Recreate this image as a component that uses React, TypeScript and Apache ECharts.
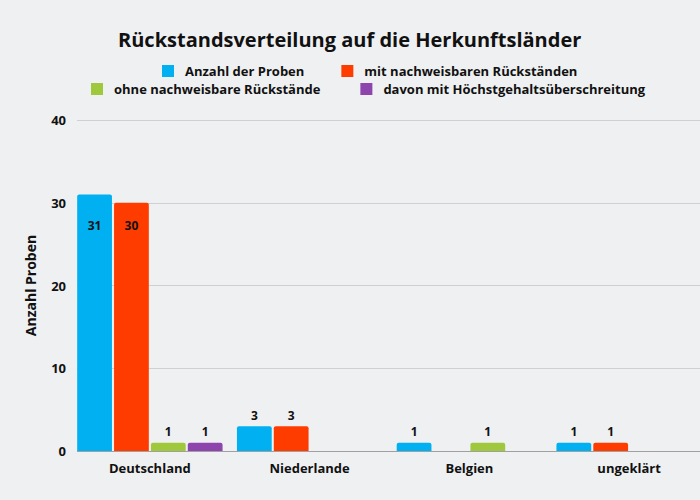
import React, { useEffect, useRef } from "react";
import * as echarts from "echarts";

const categories = ["Deutschland", "Niederlande", "Belgien", "ungeklärt"];
const seriesNames = [
  "Anzahl der Proben",
  "mit nachweisbaren Rückständen",
  "ohne nachweisbare Rückstände",
  "davon mit Höchstgehaltsüberschreitung",
];
const anzahl: (number | null)[] = [31, 3, 1, 1];
const mitRueck: (number | null)[] = [30, 3, null, 1];
const ohneRueck: (number | null)[] = [1, null, 1, null];
const davonHoechst: (number | null)[] = [1, null, null, null];
const colors = ["#00b0f0", "#ff3c00", "#a0c83c", "#8e44ad"];

const FONT = "Open Sans";

export default function App() {
  const ref = useRef<HTMLDivElement>(null);
  useEffect(() => {
    document.body.style.margin = "0";
    if (!ref.current) return;
    const chart = echarts.init(ref.current, null, { renderer: "svg" });
    const allData = [anzahl, mitRueck, ohneRueck, davonHoechst];
    const pxPerUnit = 331 / 40;
    const mk = (i: number) => ({
      name: seriesNames[i],
      type: "bar",
      xAxisIndex: 1,
      yAxisIndex: 1,
      barGap: "6%",
      barCategoryGap: "9%",
      itemStyle: { color: colors[i], borderRadius: [2, 2, 0, 0] },
      data: allData[i].map((v) =>
        v == null
          ? null
          : {
              value: v,
              label:
                v >= 10
                  ? {
                      position: "insideTop",
                      distance: Math.max(4, 25 - (31 - v) * pxPerUnit),
                    }
                  : { position: "top", distance: 5 },
            }
      ),
      label: {
        show: true,
        color: "#111",
        fontFamily: FONT,
        fontWeight: "bold",
        fontSize: 12,
      },
    });
    const legendText = {
      fontFamily: FONT,
      fontWeight: "bold",
      fontSize: 13,
      lineHeight: 14,
      color: "#111",
      padding: [0, 0, 0, 6],
    };
    chart.setOption({
      animation: false,
      backgroundColor: "#eff0f2",
      textStyle: { fontFamily: FONT },
      title: {
        text: "Rückstandsverteilung auf die Herkunftsländer",
        left: 113,
        top: 24,
        textStyle: {
          fontFamily: FONT,
          fontWeight: "bold",
          fontSize: 20,
          color: "#111",
        },
      },
      legend: [
        {
          data: [seriesNames[0], seriesNames[1]],
          left: 162,
          top: 64,
          padding: 0,
          itemWidth: 12,
          itemHeight: 12,
          itemGap: 37,
          icon: "rect",
          textStyle: legendText,
        },
        {
          data: [seriesNames[2], seriesNames[3]],
          left: 91,
          top: 82,
          padding: 0,
          itemWidth: 12,
          itemHeight: 12,
          itemGap: 40,
          icon: "rect",
          textStyle: legendText,
        },
      ],
      grid: [
        { left: 77, width: 623, top: 120, bottom: 49, containLabel: false, z: 0 },
        { left: 70, width: 639, top: 120, bottom: 49, containLabel: false },
      ],
      xAxis: [
        {
          type: "value",
          gridIndex: 0,
          show: false,
        },
        {
          type: "category",
          gridIndex: 1,
          data: categories,
          axisTick: { show: false },
          axisLine: { show: false },
          axisLabel: {
            fontFamily: FONT,
            fontWeight: "bold",
            fontSize: 13,
            color: "#111",
            margin: 10,
          },
        },
      ],
      yAxis: [
        {
          type: "value",
          gridIndex: 0,
          min: 0,
          max: 40,
          interval: 10,
          axisLine: { show: false },
          axisTick: { show: false },
          axisLabel: { show: false },
          splitLine: {
            lineStyle: {
              color: ["#a0a0a0", "#cfd0d2", "#cfd0d2", "#cfd0d2", "#cfd0d2"],
            },
          },
        },
        {
          type: "value",
          gridIndex: 1,
          min: 0,
          max: 40,
          interval: 10,
          name: "Anzahl Proben",
          nameLocation: "middle",
          nameGap: 33,
          nameTextStyle: {
            fontFamily: FONT,
            fontWeight: "bold",
            fontSize: 14,
            color: "#111",
          },
          axisLine: { show: false },
          axisTick: { show: false },
          axisLabel: {
            fontFamily: FONT,
            fontWeight: "bold",
            fontSize: 13,
            color: "#111",
            margin: 4,
          },
          splitLine: { show: false },
        },
      ],
      series: [0, 1, 2, 3].map(mk),
    });
    return () => chart.dispose();
  }, []);
  return (
    <div style={{ width: 700, height: 500, overflow: "hidden" }}>
      <div ref={ref} style={{ width: 712, height: 500 }} />
    </div>
  );
}
